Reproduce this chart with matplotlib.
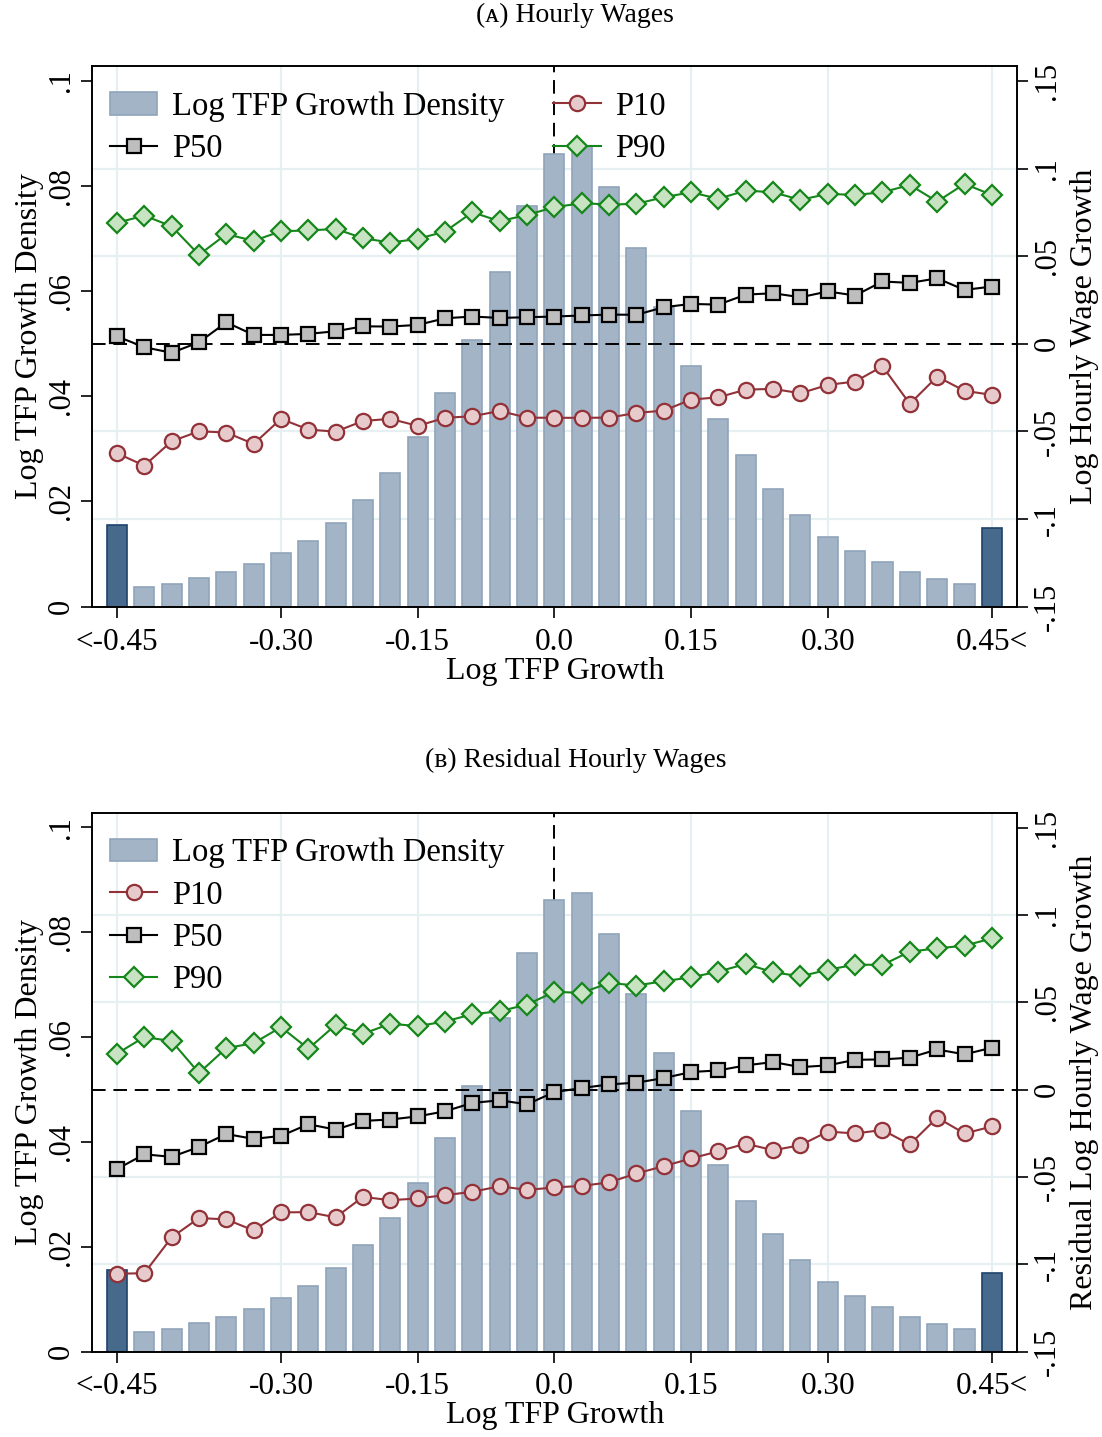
import matplotlib
matplotlib.use("Agg")
import matplotlib.pyplot as plt

plt.rcParams["font.family"] = ["Liberation Serif", "DejaVu Serif"]

# bin centres: first/last are the open-ended tails (<-0.45, 0.45<)
tfp_bins = [-0.48, -0.45, -0.42, -0.39, -0.36, -0.33, -0.30, -0.27, -0.24, -0.21,
            -0.18, -0.15, -0.12, -0.09, -0.06, -0.03, 0.00, 0.03, 0.06, 0.09,
            0.12, 0.15, 0.18, 0.21, 0.24, 0.27, 0.30, 0.33, 0.36, 0.39,
            0.42, 0.45, 0.48]
x_tick_pos = [-0.48, -0.30, -0.15, 0.0, 0.15, 0.30, 0.48]
x_tick_labels = ["<-0.45", "-0.30", "-0.15", "0.0", "0.15", "0.30", "0.45<"]
left_ticks = [0, 0.02, 0.04, 0.06, 0.08, 0.1]
left_labels = ["0", ".02", ".04", ".06", ".08", ".1"]
right_ticks = [-0.15, -0.1, -0.05, 0, 0.05, 0.1, 0.15]
right_labels = ["-.15", "-.1", "-.05", "0", ".05", ".1", ".15"]

density = [0.0156, 0.0038, 0.0044, 0.0054, 0.0066, 0.0082, 0.0102, 0.0125, 0.0160, 0.0203,
           0.0255, 0.0322, 0.0407, 0.0507, 0.0637, 0.0761, 0.0861, 0.0875, 0.0797, 0.0682,
           0.0569, 0.0458, 0.0356, 0.0288, 0.0224, 0.0175, 0.0133, 0.0106, 0.0085, 0.0066,
           0.0053, 0.0043, 0.0150]

# panel A: hourly wage growth percentiles
p10_a = [-0.0624, -0.0695, -0.0556, -0.0499, -0.0506, -0.0571, -0.0428, -0.0489, -0.0501, -0.0440,
         -0.0428, -0.0468, -0.0422, -0.0413, -0.0383, -0.0421, -0.0422, -0.0422, -0.0421, -0.0394,
         -0.0381, -0.0318, -0.0305, -0.0261, -0.0257, -0.0282, -0.0234, -0.0215, -0.0128, -0.0342,
         -0.0187, -0.0268, -0.0291]
p50_a = [0.0043, -0.0019, -0.0051, 0.0009, 0.0123, 0.0051, 0.0051, 0.0057, 0.0072, 0.0100,
         0.0099, 0.0108, 0.0146, 0.0156, 0.0148, 0.0152, 0.0156, 0.0162, 0.0167, 0.0166,
         0.0209, 0.0228, 0.0224, 0.0281, 0.0289, 0.0266, 0.0299, 0.0276, 0.0356, 0.0348,
         0.0374, 0.0308, 0.0327]
p90_a = [0.0691, 0.0732, 0.0671, 0.0508, 0.0626, 0.0588, 0.0643, 0.0647, 0.0656, 0.0603,
         0.0578, 0.0599, 0.0641, 0.0751, 0.0700, 0.0736, 0.0780, 0.0803, 0.0795, 0.0799,
         0.0837, 0.0865, 0.0828, 0.0875, 0.0865, 0.0822, 0.0856, 0.0850, 0.0865, 0.0907,
         0.0812, 0.0913, 0.0850]

# panel B: residual hourly wage growth percentiles
p10_b = [-0.1054, -0.1051, -0.0846, -0.0735, -0.0743, -0.0806, -0.0703, -0.0701, -0.0731, -0.0614,
         -0.0633, -0.0623, -0.0604, -0.0585, -0.0553, -0.0574, -0.0560, -0.0551, -0.0531, -0.0480,
         -0.0438, -0.0394, -0.0353, -0.0309, -0.0347, -0.0318, -0.0240, -0.0251, -0.0231, -0.0314,
         -0.0160, -0.0251, -0.0211]
p50_b = [-0.0455, -0.0370, -0.0385, -0.0328, -0.0254, -0.0282, -0.0265, -0.0198, -0.0229, -0.0179,
         -0.0171, -0.0153, -0.0124, -0.0076, -0.0061, -0.0084, -0.0014, 0.0009, 0.0030, 0.0040,
         0.0066, 0.0101, 0.0110, 0.0139, 0.0158, 0.0129, 0.0139, 0.0171, 0.0173, 0.0183,
         0.0230, 0.0202, 0.0240]
p90_b = [0.0206, 0.0301, 0.0278, 0.0095, 0.0238, 0.0266, 0.0358, 0.0234, 0.0371, 0.0320,
         0.0377, 0.0364, 0.0390, 0.0432, 0.0449, 0.0487, 0.0560, 0.0554, 0.0611, 0.0596,
         0.0621, 0.0643, 0.0676, 0.0720, 0.0672, 0.0649, 0.0686, 0.0716, 0.0714, 0.0790,
         0.0809, 0.0824, 0.0866]

XLIM = (-0.507, 0.508)
LEFT_LIM = (0, 0.1028)
RIGHT_LIM = (-0.15, 0.1586)
GRID = "#E6EFF1"
DASH = (0, (7, 4))
FS = 23


def draw_panel(rect, p10, p50, p90, ylabel_right, ncol, order):
    ax1 = fig.add_axes(rect)
    ax2 = ax1.twinx()
    ax1.set_zorder(0)

    # light grid behind everything
    for xv in x_tick_pos:
        if xv != 0:
            ax1.axvline(xv, color=GRID, lw=1.6, zorder=0)
    for yv in [-0.1, -0.05, 0.05, 0.1]:
        f = (yv - RIGHT_LIM[0]) / (RIGHT_LIM[1] - RIGHT_LIM[0])
        ax1.plot([0, 1], [f, f], transform=ax1.transAxes, color=GRID, lw=1.6, zorder=0)
    ax1.axvline(0, color="black", lw=1.4, ls=DASH, zorder=1)

    bars = ax1.bar(tfp_bins[1:-1], density[1:-1], width=0.022, color="#A3B4C6",
                   edgecolor="#8FA4BA", linewidth=1.2, zorder=2)
    ax1.bar([tfp_bins[0], tfp_bins[-1]], [density[0], density[-1]], width=0.022,
            color="#46698C", edgecolor="#1F426C", linewidth=1.2, zorder=2)

    ax2.axhline(0, color="black", lw=1.4, ls=DASH, zorder=1)
    l10, = ax2.plot(tfp_bins, p10, color="#923238", lw=1.5, marker="o", ms=11,
                    mfc="#E6CACC", mec="#923238", mew=1.6, zorder=3)
    l50, = ax2.plot(tfp_bins, p50, color="black", lw=1.5, marker="s", ms=10.5,
                    mfc="#BEBEBE", mec="black", mew=1.6, zorder=3)
    l90, = ax2.plot(tfp_bins, p90, color="#14861A", lw=1.5, marker="D", ms=10,
                    mfc="#C7E3C2", mec="#14861A", mew=1.6, zorder=3)

    ax1.set_xlim(*XLIM)
    ax1.set_ylim(*LEFT_LIM)
    ax2.set_ylim(*RIGHT_LIM)

    ax1.set_xticks(x_tick_pos, x_tick_labels, fontsize=22.5)
    ax1.set_yticks(left_ticks, left_labels, fontsize=22, rotation=90, va="center")
    ax2.set_yticks(right_ticks, right_labels, fontsize=22, rotation=90, va="center")
    ax1.tick_params(axis="y", direction="out", length=8, width=1.2, pad=4)
    ax1.tick_params(axis="x", direction="out", length=8, width=1.2, pad=7)
    ax2.tick_params(axis="y", direction="out", length=8, width=1.2, pad=3)
    for ax in (ax1, ax2):
        for sp in ax.spines.values():
            sp.set_linewidth(1.2)

    ax1.set_xlabel("Log TFP Growth", fontsize=FS, labelpad=0)
    ax1.set_ylabel("Log TFP Growth Density", fontsize=FS, labelpad=2)
    ax2.set_ylabel(ylabel_right, fontsize=FS, labelpad=6)

    items = {"bar": (bars, "Log TFP Growth Density"), "p10": (l10, "P10"),
             "p50": (l50, "P50"), "p90": (l90, "P90")}
    handles = [items[k][0] for k in order]
    labels = [items[k][1] for k in order]
    ax2.legend(handles, labels, ncol=ncol, loc="upper left", bbox_to_anchor=(0.019, 0.953),
               frameon=False, fontsize=23.5, handlelength=1.45, handletextpad=0.45,
               labelspacing=0.36, columnspacing=1.5, borderpad=0, borderaxespad=0,
               numpoints=1)
    return ax1, ax2


fig = plt.figure(figsize=(11.02, 14.37), dpi=100)

draw_panel([0.0838, 0.5778, 0.8394, 0.3763], p10_a, p50_a, p90_a,
           "Log Hourly Wage Growth", 2, ["bar", "p50", "p10", "p90"])
draw_panel([0.0838, 0.0594, 0.8394, 0.3751], p10_b, p50_b, p90_b,
           "Residual Log Hourly Wage Growth", 1, ["bar", "p10", "p50", "p90"])

fig.text(575 / 1102, 1 - 15 / 1437, "(ᴀ) Hourly Wages", ha="center", va="center", fontsize=20)
fig.text(576 / 1102, 1 - 760 / 1437, "(ʙ) Residual Hourly Wages", ha="center", va="center",
         fontsize=20)

fig.savefig("out.png", dpi=100)
